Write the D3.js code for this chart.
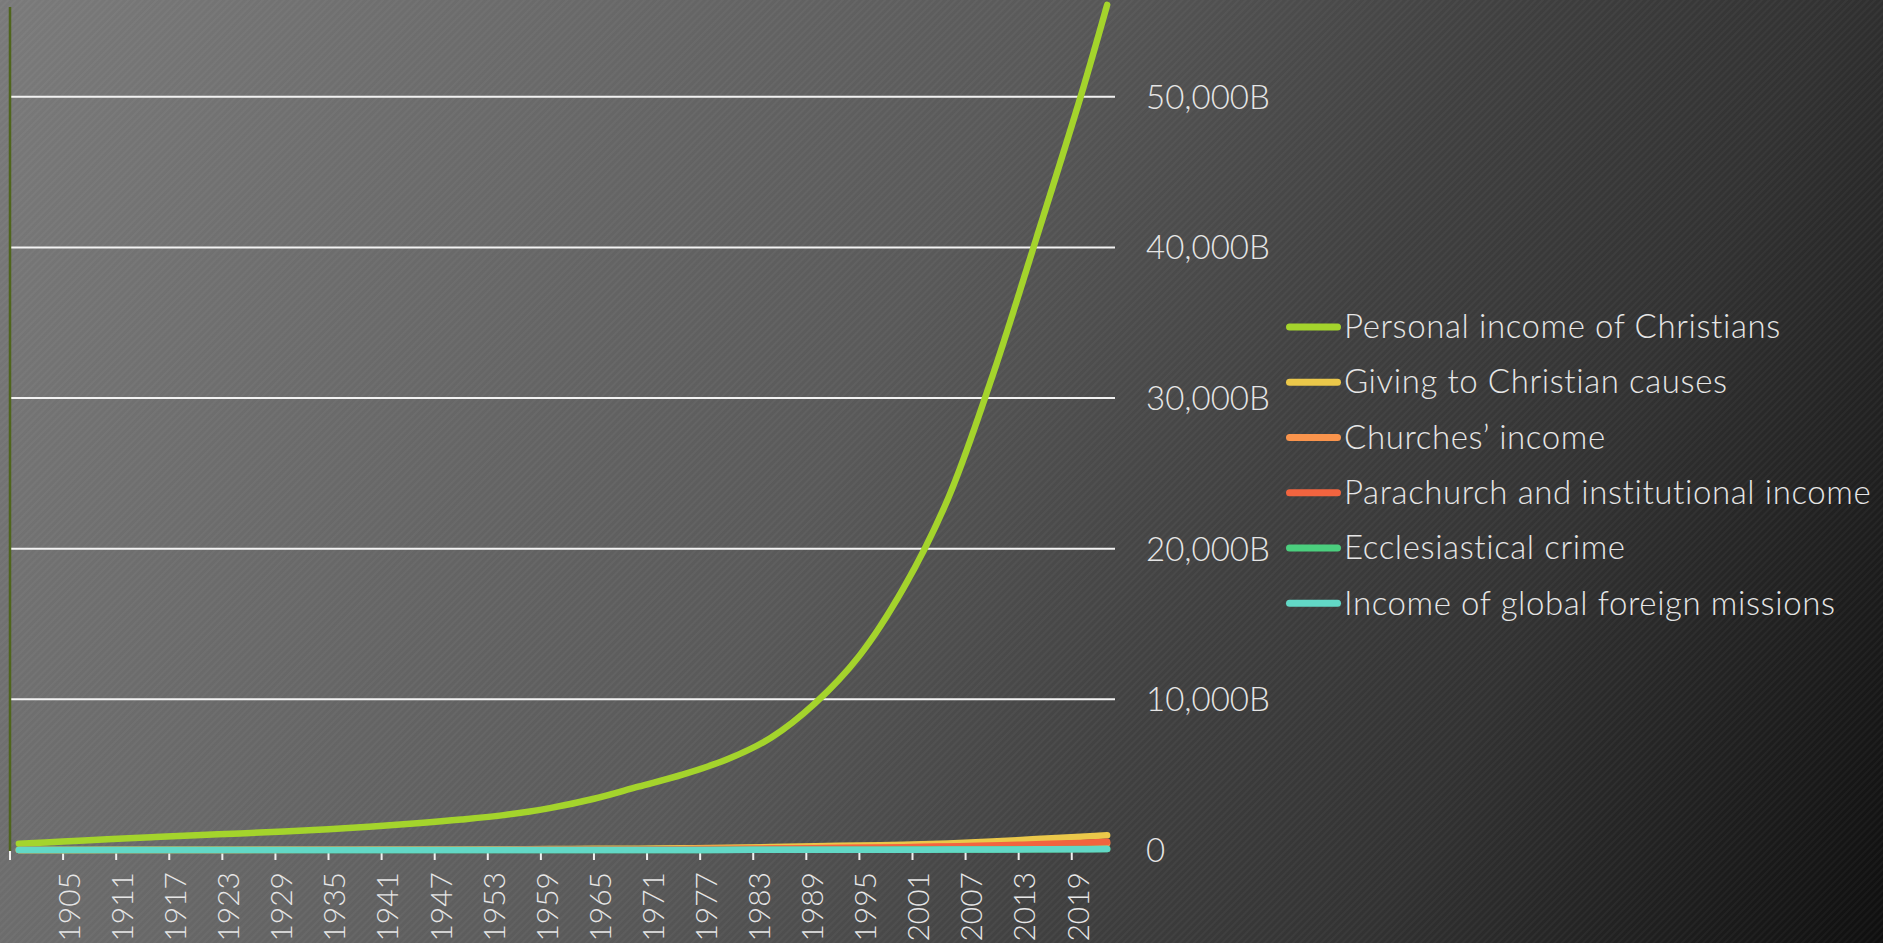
<!DOCTYPE html>
<html>
<head>
<meta charset="utf-8">
<script src="https://cdn.jsdelivr.net/npm/d3@7"></script>
<style>
  html, body { margin: 0; padding: 0; background: #111; overflow: hidden; }
  text { font-family: Lato, "Open Sans", sans-serif; font-weight: 300; fill: #e6e6e6; }
</style>
</head>
<body>
<svg id="chart" width="1883" height="943"></svg>
<script>
// Series names and colours (legend order = draw order)
var seriesNames = [
  "Personal income of Christians",
  "Giving to Christian causes",
  "Churches\u2019 income",
  "Parachurch and institutional income",
  "Ecclesiastical crime",
  "Income of global foreign missions"
];
var seriesColors = ["#a4d42c", "#ebc84a", "#fa944c", "#f2643f", "#4bcf7e", "#62d8c6"];

// Years the values were read at
var years = [1900, 1905, 1910, 1915, 1920, 1925, 1930, 1935, 1940, 1945, 1950, 1955, 1960, 1965,
             1970, 1975, 1980, 1985, 1990, 1995, 2000, 2005, 2010, 2015, 2020, 2023];

// Values in billions
var personalIncome = [420, 560, 720, 850, 980, 1100, 1230, 1380, 1560, 1770, 2020, 2330, 2780, 3400,
                      4200, 5000, 6000, 7450, 9750, 12900, 17400, 23300, 31400, 40600, 50000, 56100];
var givingCauses   = [5, 7, 9, 11, 13, 15, 18, 21, 25, 32, 40, 50, 62, 75,
                      90, 115, 150, 195, 250, 300, 350, 430, 560, 730, 880, 980];
var churchesIncome = [3, 4, 5, 6, 7, 8, 10, 12, 14, 17, 21, 27, 33, 41,
                      50, 64, 80, 100, 130, 160, 190, 230, 280, 330, 390, 430];
var parachurch     = [2, 3, 4, 5, 6, 7, 8, 10, 12, 15, 18, 23, 28, 34,
                      40, 55, 70, 95, 120, 150, 180, 240, 300, 380, 470, 540];
var crime          = [0.2, 0.3, 0.4, 0.5, 0.6, 0.7, 0.8, 1, 1.2, 1.5, 2, 2.5, 3, 4,
                      5, 7, 9, 12, 15, 20, 25, 32, 40, 50, 60, 65];
var missions       = [0.2, 0.3, 0.4, 0.5, 0.6, 0.7, 0.8, 1, 1.2, 1.4, 1.8, 2.3, 2.8, 3.4,
                      4, 6, 8, 10, 12, 16, 20, 27, 35, 45, 55, 60];

var allSeries = [personalIncome, givingCauses, churchesIncome, parachurch, crime, missions];

// Axis ticks
var xTickYears = [1899, 1905, 1911, 1917, 1923, 1929, 1935, 1941, 1947, 1953, 1959, 1965, 1971,
                  1977, 1983, 1989, 1995, 2001, 2007, 2013, 2019];
var yTicks = [0, 10000, 20000, 30000, 40000, 50000];
var yTickLabels = ["0", "10,000B", "20,000B", "30,000B", "40,000B", "50,000B"];

var svg = d3.select("#chart"),
  width = +svg.attr("width"),
  height = +svg.attr("height");

// Background gradient + faint diagonal stripes
var defs = svg.append("defs");
var grad = defs.append("linearGradient")
  .attr("id", "bg")
  .attr("gradientUnits", "userSpaceOnUse")
  .attr("x1", 0).attr("y1", 0).attr("x2", width).attr("y2", height);
[[0, "#7a7a7a"], [0.26, "#686868"], [0.45, "#595959"], [0.64, "#404040"], [0.78, "#323232"], [1, "#0f0f0f"]]
  .forEach(function(s) {
    grad.append("stop").attr("offset", s[0]).attr("stop-color", s[1]);
  });

var pat = defs.append("pattern")
  .attr("id", "stripes")
  .attr("patternUnits", "userSpaceOnUse")
  .attr("width", 5).attr("height", 5)
  .attr("patternTransform", "rotate(45)");
pat.append("rect").attr("width", 2).attr("height", 5).attr("fill", "#ffffff").attr("opacity", 0.035);

svg.append("rect").attr("width", width).attr("height", height).attr("fill", "url(#bg)");
svg.append("rect").attr("width", width).attr("height", height).attr("fill", "url(#stripes)");

// Scales
var x = d3.scaleLinear().domain([1899, 2024]).range([10, 1116]);
var y = d3.scaleLinear().domain([0, 10000]).range([850, 699.35]);

// Gridlines
svg.append("g")
  .selectAll("line")
  .data(yTicks.filter(function(d) { return d > 0; }))
  .enter()
  .append("line")
  .attr("x1", 11)
  .attr("x2", 1115)
  .attr("y1", function(d) { return y(d); })
  .attr("y2", function(d) { return y(d); })
  .attr("stroke", "#f2f2f2")
  .attr("stroke-width", 2);

// Y labels on the right
svg.append("g")
  .selectAll("text")
  .data(yTicks)
  .enter()
  .append("text")
  .attr("x", 1146)
  .attr("y", function(d) { return y(d); })
  .attr("dy", "0.36em")
  .style("font-size", "33px")
  .text(function(d, i) { return yTickLabels[i]; });

// X ticks
svg.append("g")
  .selectAll("line")
  .data(xTickYears)
  .enter()
  .append("line")
  .attr("x1", function(d) { return x(d); })
  .attr("x2", function(d) { return x(d); })
  .attr("y1", 850)
  .attr("y2", 860)
  .attr("stroke", "#f0f0f0")
  .attr("stroke-width", 2);

// X labels, rotated
svg.append("g")
  .selectAll("text")
  .data(xTickYears.slice(1))
  .enter()
  .append("text")
  .attr("text-anchor", "end")
  .attr("transform", function(d) { return "translate(" + (x(d) + 6) + ",872) rotate(-90)"; })
  .attr("dy", "0.36em")
  .style("font-size", "30px")
  .text(function(d) { return d; });

// Y axis line (dark olive)
svg.append("line")
  .attr("x1", 10).attr("x2", 10)
  .attr("y1", 7).attr("y2", 851)
  .attr("stroke", "#4f651c")
  .attr("stroke-width", 2.5);

// Lines
var line = d3.line()
  .x(function(d, i) { return x(years[i]); })
  .y(function(d) { return y(d); })
  .curve(d3.curveCatmullRom.alpha(0.5));

svg.append("g")
  .selectAll("path")
  .data(allSeries)
  .enter()
  .append("path")
  .attr("d", line)
  .attr("fill", "none")
  .attr("stroke", function(d, i) { return seriesColors[i]; })
  .attr("stroke-width", 6.5)
  .attr("stroke-linecap", "round")
  .attr("stroke-linejoin", "round");

// Legend
var legend = svg.append("g")
  .selectAll("g")
  .data(seriesNames)
  .enter()
  .append("g")
  .attr("transform", function(d, i) { return "translate(1285," + (327 + i * 55.26) + ")"; });

legend.append("line")
  .attr("x1", 4.5).attr("x2", 52.5)
  .attr("stroke", function(d, i) { return seriesColors[i]; })
  .attr("stroke-width", 7)
  .attr("stroke-linecap", "round");

legend.append("text")
  .attr("x", 59)
  .attr("dy", "0.34em")
  .style("font-size", "33px")
  .style("letter-spacing", "0.6px")
  .text(function(d) { return d; });
</script>
</body>
</html>
